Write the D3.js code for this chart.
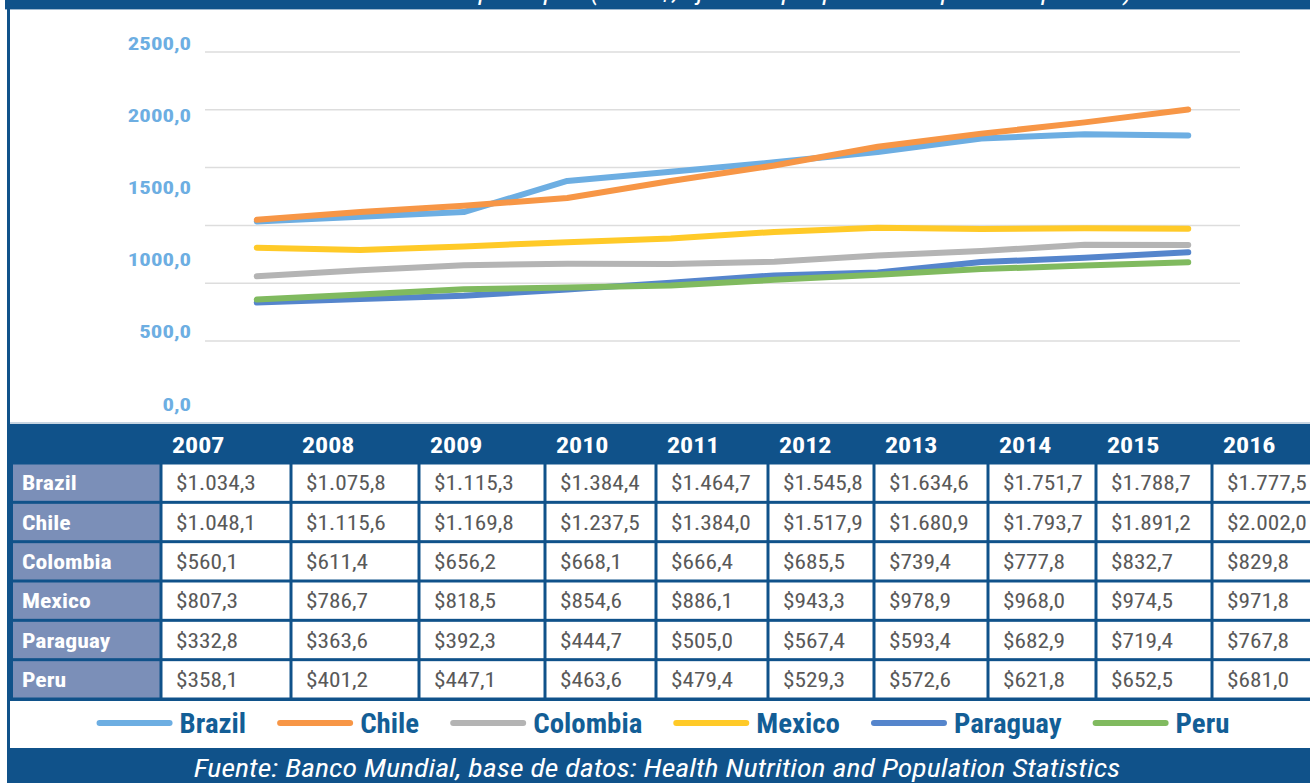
<!DOCTYPE html>
<html>
<head>
<meta charset="utf-8">
<script src="https://cdn.jsdelivr.net/npm/d3@7"></script>
<style>
  body { margin: 0; background: #fff; }
  svg { display: block; font-family: "Roboto Condensed", "Liberation Sans Narrow", "Arial Narrow", Roboto, sans-serif; }
</style>
</head>
<body>
<svg id="chart"></svg>
<script>
// data
const years = [2007, 2008, 2009, 2010, 2011, 2012, 2013, 2014, 2015, 2016];
const countries = ["Brazil", "Chile", "Colombia", "Mexico", "Paraguay", "Peru"];
const brazil   = [1034.3, 1075.8, 1115.3, 1384.4, 1464.7, 1545.8, 1634.6, 1751.7, 1788.7, 1777.5];
const chile    = [1048.1, 1115.6, 1169.8, 1237.5, 1384.0, 1517.9, 1680.9, 1793.7, 1891.2, 2002.0];
const colombia = [560.1, 611.4, 656.2, 668.1, 666.4, 685.5, 739.4, 777.8, 832.7, 829.8];
const mexico   = [807.3, 786.7, 818.5, 854.6, 886.1, 943.3, 978.9, 968.0, 974.5, 971.8];
const paraguay = [332.8, 363.6, 392.3, 444.7, 505.0, 567.4, 593.4, 682.9, 719.4, 767.8];
const peru     = [358.1, 401.2, 447.1, 463.6, 479.4, 529.3, 572.6, 621.8, 652.5, 681.0];
const yTicks = [0, 500, 1000, 1500, 2000, 2500];
const titleText = "Gráfico 1: Gasto en salud per cápita (en US$, ajustado por paridad de poder adquisitivo)";
const sourceText = "Fuente: Banco Mundial, base de datos: Health Nutrition and Population Statistics";

const series = [brazil, chile, colombia, mexico, paraguay, peru];
const colors = ["#6daee2", "#f79646", "#b4b4b4", "#ffca28", "#5585cc", "#80ba5f"];

const width = 1310, height = 783;
const navy = "#10528a";

const svg = d3.select("#chart").attr("width", width).attr("height", height);

const loc = d3.formatLocale({decimal: ",", thousands: ".", grouping: [3], currency: ["$", ""]});
const money = loc.format("$,.1f");
const axisFmt = loc.format(".1f");

// the narrow fallback font is a bit tighter than the original, so stretch it
function place(t, px, py, sx) {
  return t.attr("transform", `translate(${px},${py}) scale(${sx},1)`);
}

// plot scales
const x = d3.scaleBand().domain(years).range([205, 1240]);
const y = d3.scaleLinear().domain([0, 2500]).range([341, 52]);
// the tick labels in the picture sit on their own spacing
const yLabel = d3.scaleLinear().domain([0, 2500]).range([404, 43]);

// frame
svg.append("rect").attr("x", 5).attr("y", 0).attr("width", width).attr("height", 9).attr("fill", navy);
svg.append("line").attr("x1", 5).attr("x2", width).attr("y1", 9.5).attr("y2", 9.5).attr("stroke", "#9fb8cf").attr("stroke-width", 1);
svg.append("rect").attr("x", 7).attr("y", 0).attr("width", 3).attr("height", height).attr("fill", navy);

// title sits mostly above the top edge, as in the picture
place(svg.append("text"), 670, 0, 1.15)
  .attr("text-anchor", "middle")
  .attr("fill", "#fff").attr("font-style", "italic")
  .attr("font-size", 24)
  .text(titleText);

// gridlines
svg.append("g").selectAll("line").data(yTicks).join("line")
  .attr("x1", 205).attr("x2", 1240)
  .attr("y1", d => y(d)).attr("y2", d => y(d))
  .attr("stroke", "#dddddd").attr("stroke-width", 1.5);

// tick labels
svg.append("g").selectAll("text").data(yTicks).join("text")
  .attr("transform", d => `translate(191,${yLabel(d)}) scale(1.2,1)`)
  .attr("dy", "0.35em")
  .attr("text-anchor", "end")
  .attr("fill", "#6daee2").attr("font-weight", "bold").attr("font-size", 19)
  .text(d => axisFmt(d));

// lines
const line = d3.line()
  .x((d, i) => x(years[i]) + x.bandwidth() / 2)
  .y(d => y(d));

svg.append("g").selectAll("path").data(series).join("path")
  .attr("d", d => line(d))
  .attr("fill", "none")
  .attr("stroke", (d, i) => colors[i])
  .attr("stroke-width", 6)
  .attr("stroke-linecap", "round")
  .attr("stroke-linejoin", "round");

// table
const colEdges = [12, 161, 291, 419, 545, 656, 768, 874, 988, 1096, 1212, 1330];
const rows = d3.scaleBand().domain(countries).range([463, 699]);
const tableTop = 424;

svg.append("line").attr("x1", 10).attr("x2", width).attr("y1", tableTop - 1).attr("y2", tableTop - 1)
  .attr("stroke", "#b5c7d8").attr("stroke-width", 1.5);
svg.append("rect").attr("x", 10).attr("y", tableTop).attr("width", width - 10).attr("height", 699 - tableTop + 2)
  .attr("fill", navy);

svg.append("g").selectAll("text").data(years).join("text")
  .attr("transform", (d, i) => `translate(${colEdges[i + 1] + 11},453) scale(1.18,1)`)
  .attr("fill", "#fff").attr("font-weight", "bold").attr("font-size", 22)
  .text(d => d);

const rowG = svg.append("g").selectAll("g").data(countries).join("g")
  .attr("transform", d => `translate(0,${rows(d)})`);

rowG.append("rect")
  .attr("x", colEdges[0] + 1).attr("y", 1.5)
  .attr("width", colEdges[1] - colEdges[0] - 2.5).attr("height", rows.bandwidth() - 3)
  .attr("fill", "#7b8fb8");
rowG.append("text")
  .attr("transform", `translate(${colEdges[0] + 10},${rows.bandwidth() / 2}) scale(1.13,1)`)
  .attr("dy", "0.36em")
  .attr("fill", "#fff").attr("font-weight", "bold").attr("font-size", 21)
  .text(d => d);

rowG.each(function(c, r) {
  const g = d3.select(this);
  series[r].forEach((v, i) => {
    g.append("rect")
      .attr("x", colEdges[i + 1] + 1.5).attr("y", 1.5)
      .attr("width", colEdges[i + 2] - colEdges[i + 1] - 3).attr("height", rows.bandwidth() - 3)
      .attr("fill", "#fff");
    place(g.append("text"), colEdges[i + 1] + 15, rows.bandwidth() / 2, 1.11)
      .attr("dy", "0.36em")
      .attr("fill", "#595959").attr("font-size", 21)
      .text(money(v));
  });
});

// legend
const legend = svg.append("g");
let lx = 0;
countries.forEach((c, i) => {
  legend.append("line")
    .attr("x1", lx + 3).attr("x2", lx + 73).attr("y1", 723).attr("y2", 723)
    .attr("stroke", colors[i]).attr("stroke-width", 6).attr("stroke-linecap", "round");
  const t = place(legend.append("text"), lx + 83, 723, 1.07)
    .attr("dy", "0.36em")
    .attr("fill", "#135e96").attr("font-weight", "bold").attr("font-size", 27)
    .text(c);
  lx += 83 + t.node().getComputedTextLength() * 1.07 + 31;
});
lx -= 31;
legend.attr("transform", `translate(${663 - lx / 2},0)`);

// source bar
svg.append("rect").attr("x", 7).attr("y", 748).attr("width", width).attr("height", 35).attr("fill", navy);
place(svg.append("text"), 657, 777, 1.2)
  .attr("text-anchor", "middle")
  .attr("fill", "#fff").attr("font-style", "italic").attr("font-size", 25)
  .text(sourceText);
</script>
</body>
</html>
